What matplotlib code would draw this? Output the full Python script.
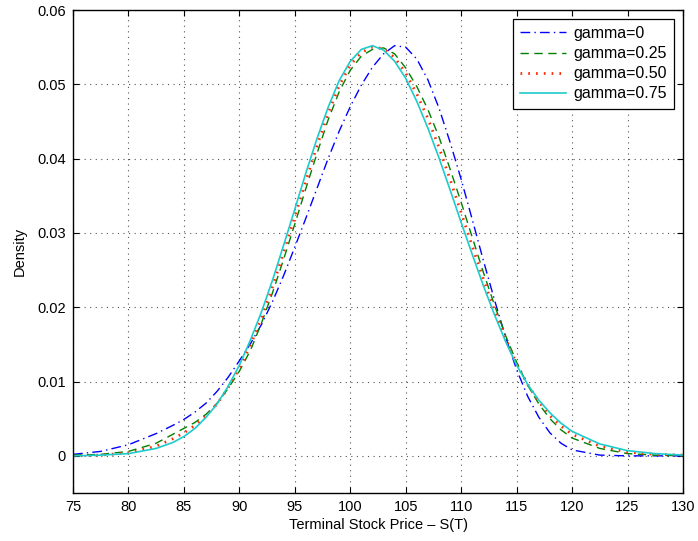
import matplotlib
matplotlib.use("Agg")
import matplotlib.pyplot as plt
from matplotlib.ticker import FixedLocator, FixedFormatter

plt.rcParams['font.family'] = ['Liberation Sans', 'DejaVu Sans']

x = [75, 77.5, 80, 82.5, 84, 85, 86, 87, 88, 89, 90, 91, 92, 93, 94, 95, 96, 97, 98, 99,
     100, 101, 102, 103, 104, 105, 106, 107, 108, 109, 110, 111, 112, 113, 114, 115, 116,
     117, 118, 119, 120, 122.5, 125, 127.5, 130]

gamma_0 = [0.0002, 0.0006, 0.0015, 0.0030, 0.0041, 0.0049, 0.0059, 0.0071, 0.0087, 0.0106,
           0.0128, 0.0151, 0.0177, 0.0208, 0.0243, 0.0281, 0.0320, 0.0360, 0.0400, 0.0437,
           0.0470, 0.0499, 0.0523, 0.0541, 0.0552, 0.0550, 0.0534, 0.0506, 0.0468, 0.0422,
           0.0372, 0.0318, 0.0263, 0.0210, 0.0160, 0.0116, 0.0080, 0.0052, 0.0031, 0.0017,
           0.0008, 0.0001, 0.0000, 0.0000, 0.0000]

gamma_025 = [0.0001, 0.0002, 0.0006, 0.0017, 0.0029, 0.0037, 0.0045, 0.0056, 0.0071, 0.0091,
             0.0114, 0.0142, 0.0179, 0.0220, 0.0265, 0.0312, 0.0360, 0.0407, 0.0452, 0.0490,
             0.0519, 0.0538, 0.0547, 0.0549, 0.0541, 0.0522, 0.0497, 0.0466, 0.0429, 0.0386,
             0.0341, 0.0294, 0.0247, 0.0203, 0.0162, 0.0126, 0.0095, 0.0070, 0.0050, 0.0035,
             0.0024, 0.0010, 0.0003, 0.0001, 0.0000]

gamma_050 = [0.0000, 0.0001, 0.0004, 0.0013, 0.0023, 0.0031, 0.0041, 0.0054, 0.0070, 0.0092,
             0.0118, 0.0149, 0.0186, 0.0228, 0.0274, 0.0322, 0.0370, 0.0417, 0.0461, 0.0498,
             0.0526, 0.0543, 0.0550, 0.0548, 0.0536, 0.0515, 0.0487, 0.0454, 0.0415, 0.0372,
             0.0327, 0.0282, 0.0238, 0.0196, 0.0158, 0.0124, 0.0096, 0.0073, 0.0054, 0.0040,
             0.0029, 0.0013, 0.0005, 0.0002, 0.0001]

gamma_075 = [0.0000, 0.0001, 0.0003, 0.0010, 0.0018, 0.0026, 0.0037, 0.0052, 0.0070, 0.0094,
             0.0122, 0.0156, 0.0194, 0.0237, 0.0284, 0.0332, 0.0381, 0.0427, 0.0469, 0.0505,
             0.0531, 0.0547, 0.0552, 0.0546, 0.0531, 0.0508, 0.0477, 0.0441, 0.0401, 0.0358,
             0.0314, 0.0271, 0.0229, 0.0190, 0.0154, 0.0122, 0.0096, 0.0075, 0.0058, 0.0044,
             0.0033, 0.0016, 0.0007, 0.0003, 0.0001]

labels = ['gamma=0', 'gamma=0.25', 'gamma=0.50', 'gamma=0.75']
xticks = [75, 80, 85, 90, 95, 100, 105, 110, 115, 120, 125, 130]
yticks = [0, 0.01, 0.02, 0.03, 0.04, 0.05, 0.06]
ytick_labels = ['0', '0.01', '0.02', '0.03', '0.04', '0.05', '0.06']

fig = plt.figure(figsize=(6.98, 5.41), dpi=100)
ax = fig.add_axes([0.1046, 0.0887, 0.8739, 0.8928])

ax.plot(x, gamma_0, color='#0000ff', lw=1.0, linestyle=(0, (7, 3, 1, 3)), label=labels[0])
ax.plot(x, gamma_025, color='#008000', lw=1.0, linestyle=(0, (6, 4)), label=labels[1])
ax.plot(x, gamma_050, color='#ff2a00', lw=2.0, linestyle=(0, (0.6, 2.2)), label=labels[2])
ax.plot(x, gamma_075, color='#1ccccc', lw=1.2, linestyle='-', label=labels[3])

ax.set_xlim(75, 130)
ax.set_ylim(-0.005, 0.06)
ax.xaxis.set_major_locator(FixedLocator(xticks))
ax.set_xticklabels([str(t) for t in xticks])
ax.yaxis.set_major_locator(FixedLocator(yticks))
ax.yaxis.set_major_formatter(FixedFormatter(ytick_labels))

ax.grid(True, color='#555555', linestyle=(0, (1, 4)), linewidth=0.8)
ax.tick_params(direction='in', top=True, right=True, length=4, width=0.8, labelsize=10.5, pad=5)
for s in ax.spines.values():
    s.set_linewidth(1.0)
    s.set_color('black')

ax.set_xlabel('Terminal Stock Price \u2013 S(T)', fontsize=10.5, labelpad=3)
ax.set_ylabel('Density', fontsize=10.5, labelpad=8)

leg = ax.legend(loc='upper right', fontsize=11.5, frameon=True, fancybox=False,
                edgecolor='black', framealpha=1, borderpad=0.45, handlelength=2.9,
                labelspacing=0.32, handletextpad=0.45, borderaxespad=0.55)
leg.get_frame().set_linewidth(0.9)

fig.savefig('out.png', dpi=100)
